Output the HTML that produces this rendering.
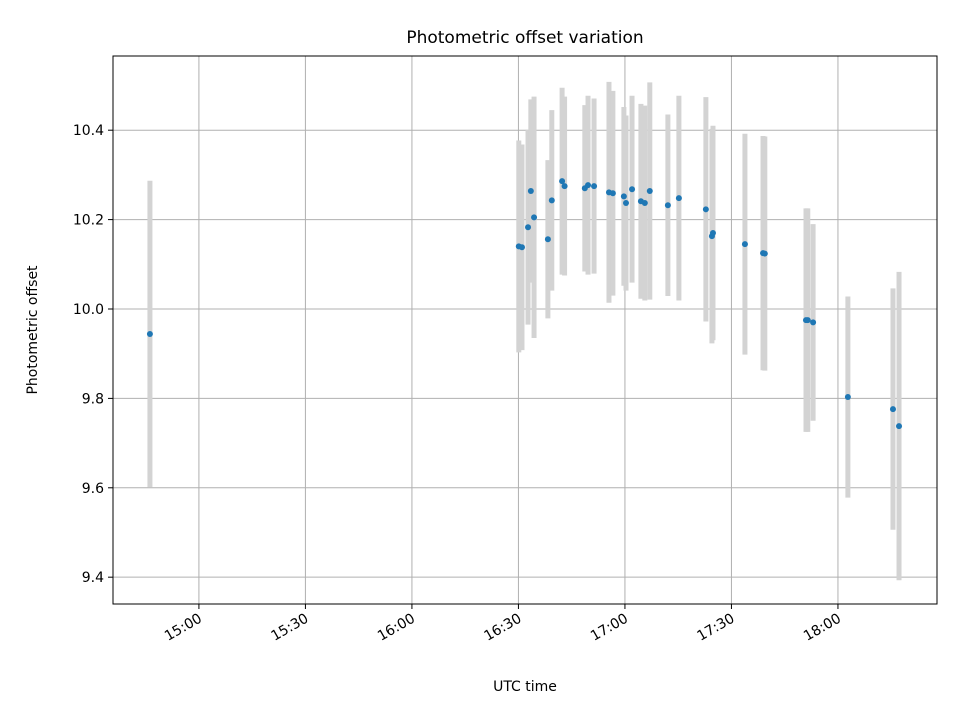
<!DOCTYPE html>
<html><head><meta charset="utf-8"><style>
body{margin:0;background:#fff;font-family:"DejaVu Sans","Liberation Sans",sans-serif}
</style></head><body>
<svg id="chart" width="960" height="720" xmlns="http://www.w3.org/2000/svg"></svg>
<script>
const times=[46.2,150.1,151.0,152.7,153.5,154.4,158.3,159.4,162.3,163.0,168.7,169.6,171.3,175.5,176.6,179.7,180.3,182.0,184.5,185.6,187.0,192.1,195.2,202.8,204.5,204.8,213.8,218.9,219.4,231.0,231.5,233.0,242.8,255.5,257.2];
const values=[9.944,10.140,10.138,10.183,10.264,10.205,10.156,10.243,10.286,10.275,10.270,10.277,10.275,10.261,10.259,10.252,10.237,10.268,10.241,10.237,10.264,10.232,10.248,10.223,10.163,10.170,10.145,10.125,10.124,9.975,9.975,9.970,9.803,9.776,9.738];
const errors=[0.343,0.237,0.23,0.218,0.205,0.27,0.177,0.202,0.209,0.2,0.186,0.2,0.196,0.247,0.229,0.2,0.196,0.209,0.218,0.218,0.243,0.203,0.229,0.251,0.24,0.24,0.247,0.262,0.262,0.25,0.25,0.22,0.225,0.27,0.345];
const yTicks=[9.4,9.6,9.8,10.0,10.2,10.4];
const xTicks=[60,90,120,150,180,210,240];
const xTickLabels=["15:00","15:30","16:00","16:30","17:00","17:30","18:00"];
const L=113,R=937,T=56,B=604,xMin=35.8,xMax=267.9,yMin=9.340,yMax=10.566;
const xs=v=>L+(v-xMin)/(xMax-xMin)*(R-L);
const ys=v=>B-(v-yMin)/(yMax-yMin)*(B-T);
const svg=document.getElementById('chart');
const NS='http://www.w3.org/2000/svg';
function mk(tag,attrs,parent){const e=document.createElementNS(NS,tag);for(const k in attrs)e.setAttribute(k,attrs[k]);(parent||svg).appendChild(e);return e;}
const grid=mk('g',{});


xTicks.forEach((t,i)=>{const x=xs(t);
 const g=mk('line',{x1:x,x2:x,y1:T,y2:B,stroke:'#b0b0b0','stroke-width':1},grid);
 
 
 mk('line',{x1:x,x2:x,y1:B,y2:B+5,stroke:'#000'});
 const ax=x+4,ay=B+17;
 const tx=mk('text',{x:ax,y:ay,'font-size':14,'text-anchor':'end',transform:`rotate(-30 ${ax} ${ay})`});
 tx.textContent=xTickLabels[i];
 
 
});
yTicks.forEach(t=>{const y=ys(t);
 const g=mk('line',{x1:L,x2:R,y1:y,y2:y,stroke:'#b0b0b0','stroke-width':1},grid);
 
 
 mk('line',{x1:L-5,x2:L,y1:y,y2:y,stroke:'#000'});
 const tx=mk('text',{x:L-9,y:y+5,'font-size':14,'text-anchor':'end'});
 tx.textContent=t.toFixed(1);
 
 
});
const eg=mk('g',{});


times.forEach((t,i)=>{const x=xs(t);
 const e=mk('line',{x1:x,x2:x,y1:ys(values[i]+errors[i]),y2:ys(values[i]-errors[i]),stroke:'#d3d3d3','stroke-width':5},eg);
 
 
});
const pg=mk('g',{});


times.forEach((t,i)=>{
 const c=mk('circle',{cx:xs(t),cy:ys(values[i]),r:3,fill:'#1f77b4'},pg);
 
 
});
const fr=mk('rect',{x:L,y:T,width:R-L,height:B-T,fill:'none',stroke:'#000','stroke-width':1});


const ti=mk('text',{x:(L+R)/2,y:43,'font-size':17,'text-anchor':'middle'});ti.textContent='Photometric offset variation';


const xl=mk('text',{x:(L+R)/2,y:691,'font-size':14,'text-anchor':'middle'});xl.textContent='UTC time';


const yl=mk('text',{x:37,y:(T+B)/2,'font-size':14,'text-anchor':'middle',transform:`rotate(-90 37 ${(T+B)/2})`});yl.textContent='Photometric offset';


</script>
</body></html>
